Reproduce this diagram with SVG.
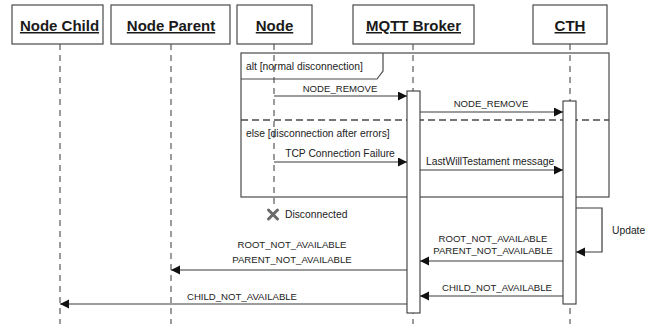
<svg xmlns="http://www.w3.org/2000/svg" width="655" height="324" viewBox="0 0 655 324">
  <style>
    .head { fill: #ffffff; stroke: #4a4a4a; stroke-width: 1.2; }
    .title { font-family: "Liberation Sans", Arial, sans-serif; font-weight: bold; font-size: 15px; fill: #1a1a1a; text-anchor: middle; text-decoration: underline; }
    .life { stroke: #4a4a4a; stroke-width: 1.1; stroke-dasharray: 6 5; fill: none; }
    .bar { fill: #ffffff; stroke: #3a3a3a; stroke-width: 1.1; }
    .frame { fill: none; stroke: #4a4a4a; stroke-width: 1.2; }
    .sep { stroke: #4a4a4a; stroke-width: 1.6; stroke-dasharray: 7 4; }
    .msg { stroke: #3a3a3a; stroke-width: 1.2; fill: none; marker-end: url(#arrow); }
    .cap { font-family: "Liberation Sans", Arial, sans-serif; font-size: 9.6px; fill: #222222; }
    .txt { font-family: "Liberation Sans", Arial, sans-serif; font-size: 10.3px; fill: #222222; }
    .mid { text-anchor: middle; }
  </style>
  <defs>
    <marker id="arrow" markerUnits="userSpaceOnUse" markerWidth="10" markerHeight="10" refX="9" refY="4.5" orient="auto">
      <path d="M0,0 L9,4.5 L0,9 z" fill="#111111"/>
    </marker>
  </defs>

  <!-- lifelines -->
  <g id="lifelines">
    <line class="life" x1="60" y1="44" x2="60" y2="324"/>
    <line class="life" x1="171" y1="44" x2="171" y2="324"/>
    <line class="life" x1="274" y1="44" x2="274" y2="208"/>
    <line class="life" x1="413" y1="44" x2="413" y2="324"/>
    <line class="life" x1="570" y1="44" x2="570" y2="324"/>
  </g>

  <!-- participants -->
  <g id="node-child">
    <rect class="head" x="12" y="5" width="91" height="39"/>
    <text class="title" x="59.5" y="31">Node Child</text>
  </g>
  <g id="node-parent">
    <rect class="head" x="111" y="5" width="119" height="39"/>
    <text class="title" x="171" y="31">Node Parent</text>
  </g>
  <g id="node">
    <rect class="head" x="237" y="5" width="75" height="39"/>
    <text class="title" x="274.5" y="31">Node</text>
  </g>
  <g id="mqtt-broker">
    <rect class="head" x="353" y="5" width="121" height="39"/>
    <text class="title" x="413.5" y="31">MQTT Broker</text>
  </g>
  <g id="cth">
    <rect class="head" x="533" y="5" width="74" height="39"/>
    <text class="title" x="570" y="31">CTH</text>
  </g>

  <!-- alt fragment -->
  <g id="alt-fragment">
    <rect class="frame" x="241" y="53" width="368" height="144"/>
    <path class="frame" d="M241,79 L377,79 L383,71 L383,53"/>
    <text class="txt" x="246" y="70">alt [normal disconnection]</text>
    <line class="sep" x1="241" y1="120" x2="609" y2="120"/>
    <text class="txt" x="246" y="137">else [disconnection after errors]</text>
  </g>

  <!-- activations -->
  <g id="activations">
    <rect class="bar" x="407" y="91" width="13" height="222"/>
    <rect class="bar" x="563" y="101" width="13" height="203"/>
  </g>

  <!-- termination of Node -->
  <g id="node-destroyed">
    <path d="M268.5,210 L277.5,219 M277.5,210 L268.5,219" stroke="#6a6a6a" stroke-width="3" stroke-linecap="round"/>
    <text class="txt" x="285" y="218">Disconnected</text>
  </g>

  <!-- messages -->
  <g id="connectors">
    <line class="msg" x1="274" y1="96" x2="407" y2="96"/>
    <text class="cap mid" x="340" y="92">NODE_REMOVE</text>

    <line class="msg" x1="420" y1="112" x2="563" y2="112"/>
    <text class="cap mid" x="491" y="107">NODE_REMOVE</text>

    <line class="msg" x1="274" y1="162" x2="407" y2="162"/>
    <text class="txt mid" x="340" y="157">TCP Connection Failure</text>

    <line class="msg" x1="420" y1="170" x2="563" y2="170"/>
    <text class="txt" x="426" y="165">LastWillTestament message</text>

    <polyline class="msg" points="576,208 602,208 602,252 576,252"/>
    <text class="txt" x="612" y="234">Update</text>

    <line class="msg" x1="563" y1="261" x2="420" y2="261"/>
    <text class="cap mid" x="493" y="242">ROOT_NOT_AVAILABLE</text>
    <text class="cap mid" x="493" y="254">PARENT_NOT_AVAILABLE</text>

    <line class="msg" x1="407" y1="270" x2="171" y2="270"/>
    <text class="cap mid" x="292" y="248">ROOT_NOT_AVAILABLE</text>
    <text class="cap mid" x="292" y="263">PARENT_NOT_AVAILABLE</text>

    <line class="msg" x1="563" y1="296" x2="420" y2="296"/>
    <text class="cap mid" x="497" y="291">CHILD_NOT_AVAILABLE</text>

    <line class="msg" x1="407" y1="304" x2="60" y2="304"/>
    <text class="cap" x="187" y="300">CHILD_NOT_AVAILABLE</text>
  </g>
</svg>
